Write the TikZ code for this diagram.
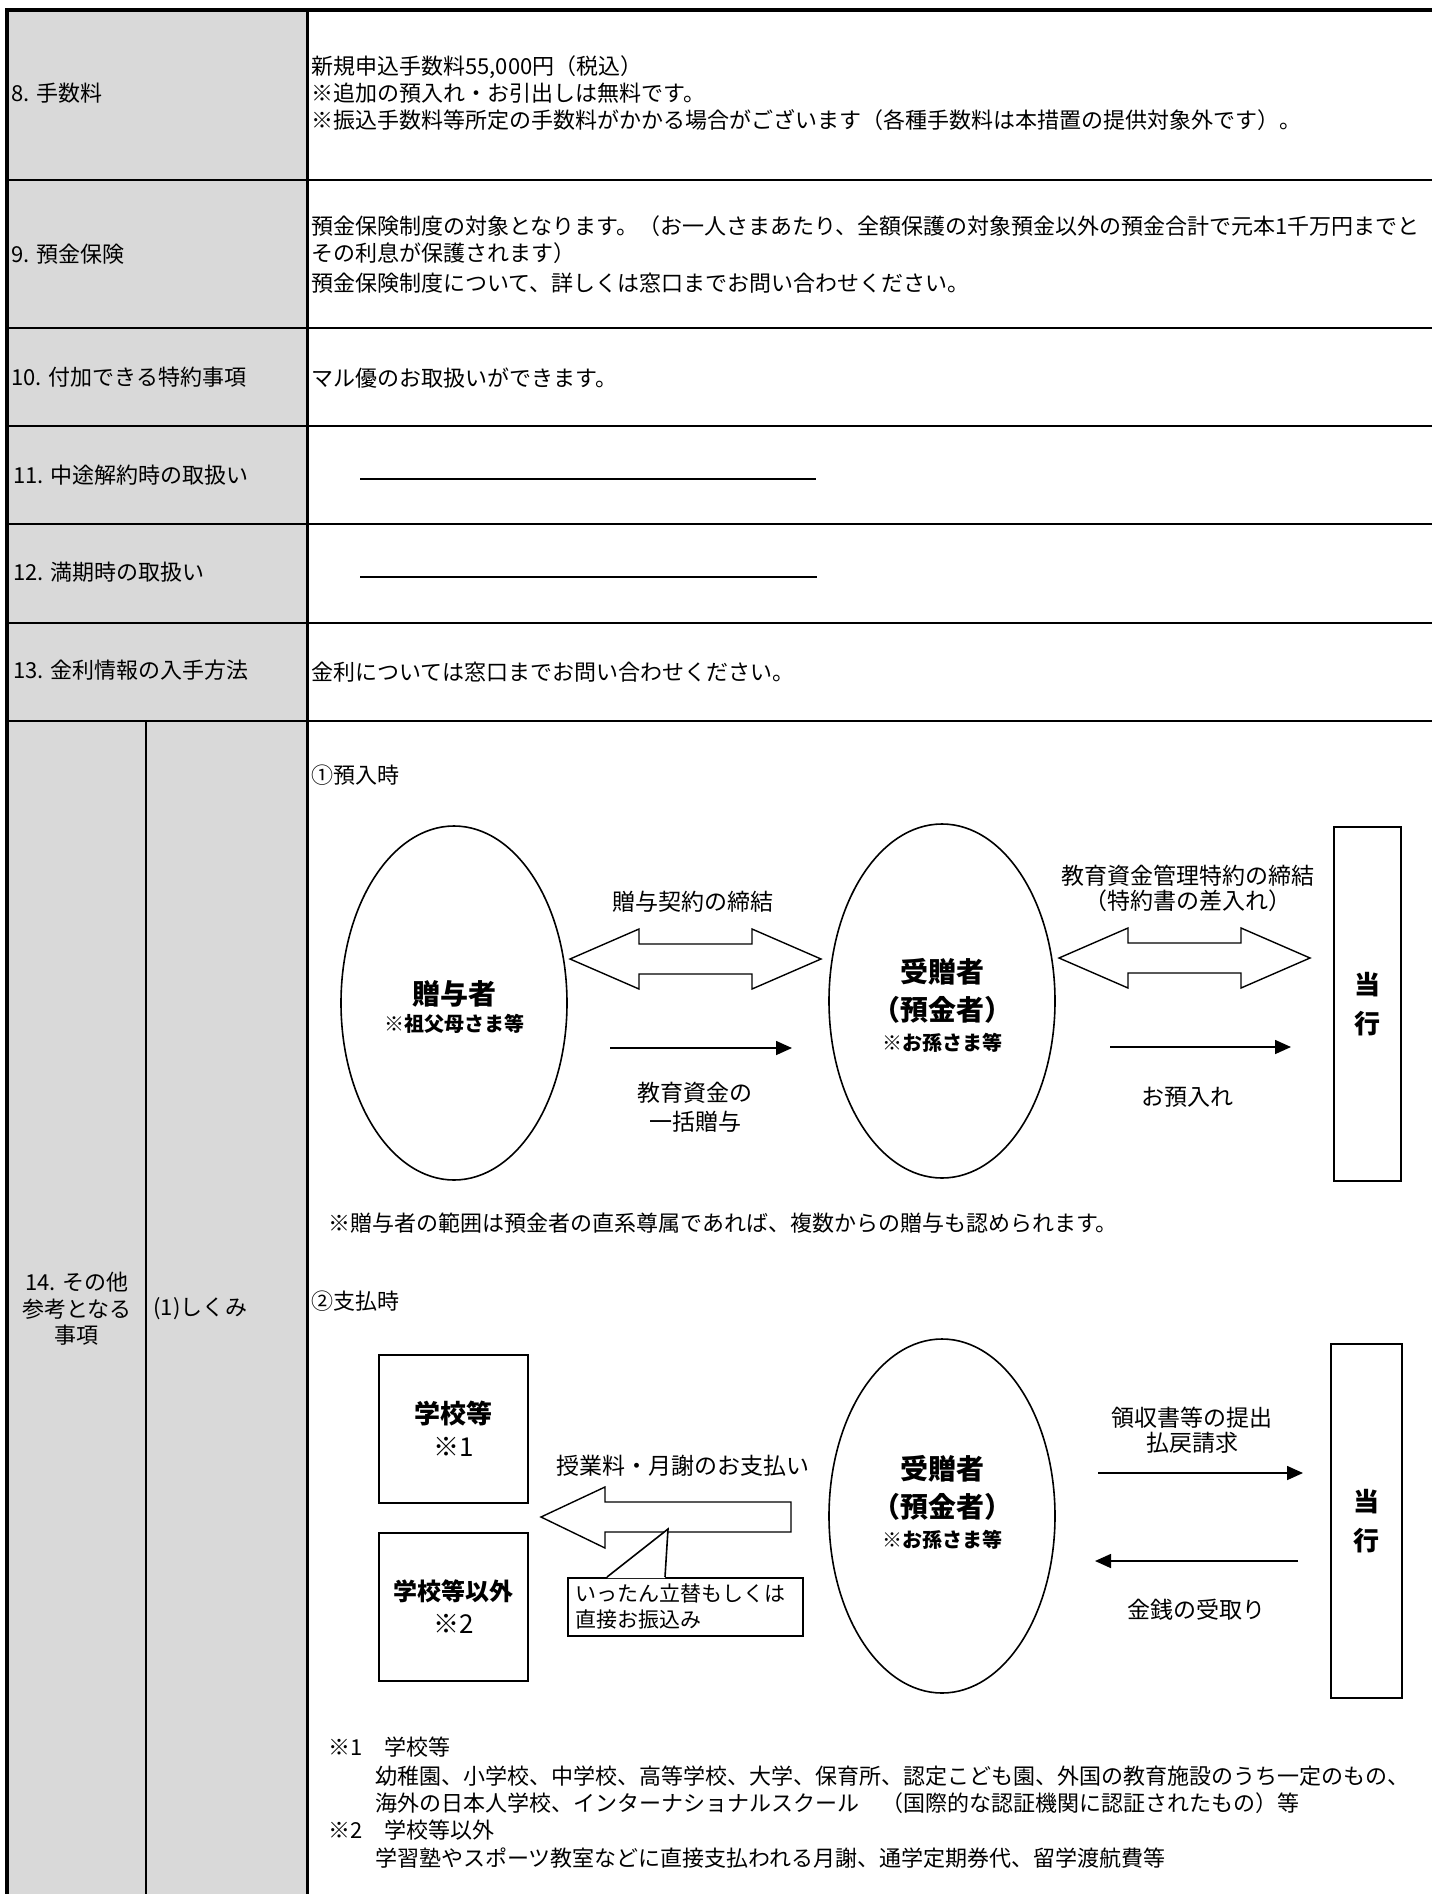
\documentclass[tikz,border=0pt]{standalone}
\usepackage{fontspec}
\setmainfont{Noto Sans CJK JP}
\usetikzlibrary{shapes.geometric,arrows.meta,calc}
\definecolor{gris}{HTML}{D9D9D9}

\begin{document}
\begin{tikzpicture}[x=0.5pt,y=-0.5pt,
    texto/.style={font=\fontsize{11}{13.5}\selectfont, inner sep=0pt, anchor=west, align=left},
    etiqueta/.style={font=\fontsize{11.5}{12.5}\selectfont, inner sep=0pt, align=center},
    elipse/.style={draw, line width=0.8pt, ellipse, minimum width=113pt, minimum height=177pt, inner sep=0pt},
    nombre/.style={inner sep=0pt, align=center, font=\bfseries\fontsize{14}{19}\selectfont},
    caja/.style={draw, line width=0.8pt, rectangle, inner sep=0pt, align=center},
    flecha/.style={line width=0.8pt, -{Triangle[length=8pt,width=7pt]}},
    bloque/.style={draw, line width=0.7pt, fill=white, line join=miter}]

    \useasboundingbox (0,0) rectangle (1432,1894);
    \clip (0,0) rectangle (1432,1894);

    % Columna de titulos (gris)
    \fill[gris] (7,10) rectangle (307,1894);

    % Lineas de la tabla
    \foreach \y in {180,328,426,524,623,721} {
        \draw[line width=0.6pt] (7,\y) -- (1432,\y);
    }
    \draw[line width=0.6pt] (146,721) -- (146,1894);
    \draw[line width=1.5pt] (307,10) -- (307,1894);
    \draw[line width=1.6pt] (7,1894) -- (7,10) -- (1432,10);

    % Titulos de las filas
    \node[texto] (r8) at (11,93) {8. 手数料};
    \node[texto] (r9) at (11,254) {9. 預金保険};
    \node[texto] (r10) at (11,377) {10. 付加できる特約事項};
    \node[texto] (r11) at (13,475) {11. 中途解約時の取扱い};
    \node[texto] (r12) at (13,572) {12. 満期時の取扱い};
    \node[texto] (r13) at (13,670) {13. 金利情報の入手方法};
    \node[texto, anchor=center, align=center, font=\fontsize{11}{13.25}\selectfont] (r14) at (77,1309) {14. その他\\参考となる\\事項};
    \node[texto] (r14a) at (153,1309) {(1)しくみ};

    % Contenido de las filas
    \node[texto] (t8) at (311,93) {新規申込手数料55,000円（税込）\\※追加の預入れ・お引出しは無料です。\\※振込手数料等所定の手数料がかかる場合がございます（各種手数料は本措置の提供対象外です）。};
    \node[texto] (t9) at (311,255) {預金保険制度の対象となります。（お一人さまあたり、全額保護の対象預金以外の預金合計で元本1千万円までと\\その利息が保護されます）\\[1.5pt]預金保険制度について、詳しくは窓口までお問い合わせください。};
    \node[texto] (t10) at (311,378) {マル優のお取扱いができます。};
    \draw[line width=0.6pt] (360,479) -- (816,479);
    \draw[line width=0.6pt] (360,577) -- (817,577);
    \node[texto] (t13) at (311,672) {金利については窓口までお問い合わせください。};

    % Esquema 1: al depositar
    \node[texto] (paso1) at (311,775) {①預入時};
    \node[elipse] (donante) at (454,1003) {};
    \node[nombre] (donanteT) at (454,1007) {贈与者\\[-5.5pt]{\fontsize{10}{12}\selectfont ※祖父母さま等}};
    \node[elipse] (donatario) at (942,1001) {};
    \node[nombre] (donatarioT) at (942,1005) {受贈者\\（預金者）\\[-4pt]{\fontsize{10}{12}\selectfont ※お孫さま等}};
    \node[caja, minimum width=33.5pt, minimum height=177pt, font=\bfseries\fontsize{13}{19.5}\selectfont] (banco) at (1367.5,1004) {当\\行};

    % Flechas dobles
    \coordinate (d1a) at (570,959);
    \coordinate (d1b) at (821,959);
    \coordinate (d2a) at (1059,958);
    \coordinate (d2b) at (1310,958);
    \foreach \n in {d1,d2} {
        \draw[bloque] (\n a) -- ++(69,-30) -- ++(0,15) -- ($(\n b)+(-69,-15)$) -- ++(0,-15) -- (\n b)
            -- ++(-69,30) -- ++(0,-15) -- ($(\n a)+(69,15)$) -- ++(0,15) -- cycle;
    }
    \node[etiqueta] (contrato) at (693,902) {贈与契約の締結};
    \node[etiqueta] (especial) at (1188,888) {教育資金管理特約の締結\\（特約書の差入れ）};

    % Flechas simples
    \coordinate (f1a) at (610,1048);
    \coordinate (f1b) at (792,1048);
    \coordinate (f2a) at (1110,1047);
    \coordinate (f2b) at (1291,1047);
    \draw[flecha] (f1a) -- (f1b);
    \draw[flecha] (f2a) -- (f2b);
    \node[etiqueta, font=\fontsize{11.5}{14.5}\selectfont] (regalo) at (695,1107) {教育資金の\\一括贈与};
    \node[etiqueta] (deposito) at (1187,1097) {お預入れ};

    \node[texto] (rango) at (328,1223) {※贈与者の範囲は預金者の直系尊属であれば、複数からの贈与も認められます。};

    % Esquema 2: al pagar
    \node[texto] (paso2) at (311,1301) {②支払時};
    \node[caja, minimum width=74.5pt, minimum height=74pt, font=\fontsize{13}{16.5}\selectfont] (escuela) at (453.5,1429) {\textbf{学校等}\\※1};
    \node[caja, minimum width=74.5pt, minimum height=74pt, font=\fontsize{13}{16.5}\selectfont] (otros) at (453.5,1607) {{\bfseries\fontsize{12}{14}\selectfont 学校等以外}\\※2};
    \node[elipse] (donatario2) at (942,1516) {};
    \node[nombre] (donatario2T) at (942,1502) {受贈者\\（預金者）\\[-4pt]{\fontsize{10}{12}\selectfont ※お孫さま等}};
    \node[caja, minimum width=35.5pt, minimum height=177pt, font=\bfseries\fontsize{13}{19.5}\selectfont] (banco2) at (1366.5,1521) {当\\行};

    % Flecha grande del pago
    \coordinate (pago) at (541,1517);
    \coordinate (pagofin) at (791,1517);
    \draw[bloque] (pago) -- ++(64,-30) -- ++(0,15) -- ($(pagofin)+(0,-15)$) -- ++(0,30)
        -- ($(pago)+(64,15)$) -- ++(0,16) -- cycle;
    \node[etiqueta] (cuota) at (683,1466) {授業料・月謝のお支払い};

    % Globo de nota
    \node[caja, anchor=north west, align=left, text width=109.5pt, minimum height=29pt, inner xsep=4pt,
        font=\fontsize{10.5}{13}\selectfont] (globo) at (567,1577) {いったん立替もしくは\\直接お振込み};
    \coordinate (punta) at (668,1529);
    \fill[white] ([xshift=20pt,yshift=-0.6pt]globo.north west) -- (punta) -- ([xshift=49pt,yshift=-0.6pt]globo.north west) -- cycle;
    \draw[line width=0.8pt] ([xshift=20pt]globo.north west) -- (punta) -- ([xshift=49pt]globo.north west);

    % Flechas con el banco
    \coordinate (f3a) at (1098,1473);
    \coordinate (f3b) at (1303,1473);
    \coordinate (f4a) at (1298,1561);
    \coordinate (f4b) at (1095,1561);
    \draw[flecha] (f3a) -- (f3b);
    \draw[flecha] (f4a) -- (f4b);
    \node[etiqueta] (recibo) at (1192,1430) {領収書等の提出\\払戻請求};
    \node[etiqueta] (cobro) at (1196,1610) {金銭の受取り};

    % Notas al pie
    \node[texto] (nota1) at (328,1747) {※1　学校等};
    \node[texto] (nota1b) at (375,1790) {幼稚園、小学校、中学校、高等学校、大学、保育所、認定こども園、外国の教育施設のうち一定のもの、\\海外の日本人学校、インターナショナルスクール　（国際的な認証機関に認証されたもの）等};
    \node[texto] (nota2) at (328,1830) {※2　学校等以外};
    \node[texto] (nota2b) at (375,1858) {学習塾やスポーツ教室などに直接支払われる月謝、通学定期券代、留学渡航費等};
\end{tikzpicture}
\end{document}
